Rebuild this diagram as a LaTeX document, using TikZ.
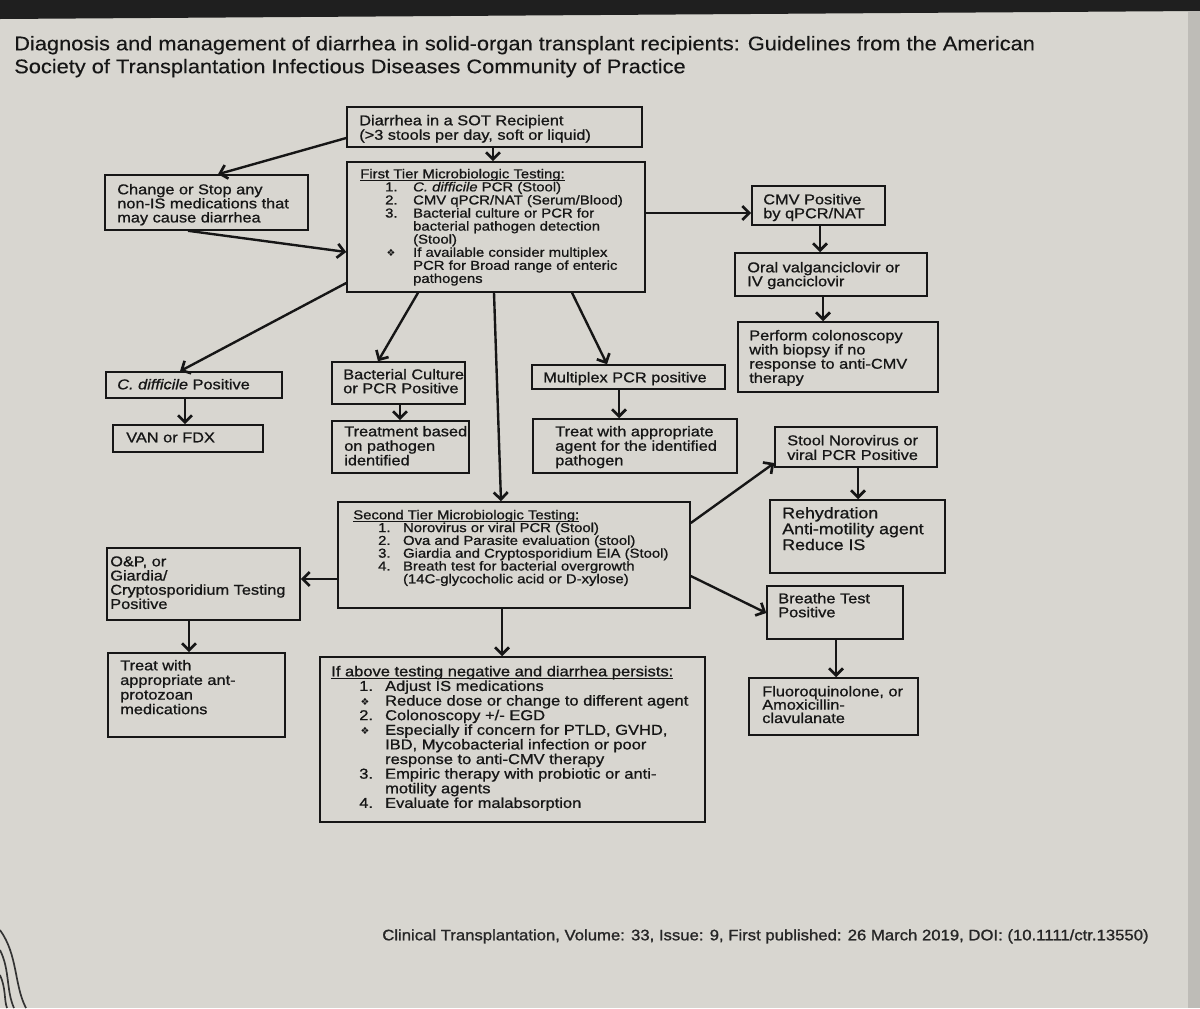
\documentclass[tikz,border=0pt]{standalone}
\usepackage{fontspec}
\setmainfont{Liberation Sans}[FakeStretch=1.15,FakeBold=0.9]
\newfontfamily\titlefont{Liberation Sans}[FakeStretch=1.107,FakeBold=0.3]
\newfontfamily\footfont{Liberation Sans}[FakeStretch=1.1,FakeBold=1.2]
\newfontfamily\symfont{DejaVu Sans}
\usetikzlibrary{arrows.meta,fit}
\definecolor{bg}{RGB}{216,214,208}
\definecolor{ink}{RGB}{22,22,22}
\newcommand\tp{\rule{0pt}{12pt}}
\newcommand\fs[2]{\fontsize{#1}{#2}\selectfont\lineskiplimit=-30pt\relax}
\newcommand\itm[2]{\makebox[#1][l]{#2}}
\newcommand\dia[1]{\makebox[#1][l]{\hspace{1pt}{\symfont\fontsize{7}{7}\selectfont ❖}}}
\newlength\ulw
\newcommand\ul[1]{\settowidth\ulw{#1}\rlap{\rule[-1.6pt]{\ulw}{0.7pt}}#1}
\tikzset{
  box/.style={draw=ink, line width=1.1pt, inner sep=0pt},
  txt/.style={anchor=north west, inner sep=0pt, align=left, yshift=12pt, text=ink},
  arr/.style={draw=ink, line width=1.7pt, -{Straight Barb[length=5pt,width=10pt,line width=1.9pt]}},
  hair/.style={draw=black!80, line width=1.2pt},
}
\begin{document}
\begin{tikzpicture}[x=0.025cm,y=-0.025cm]
\useasboundingbox (0,0) rectangle (1200,1008);
\fill[bg] (0,0) rectangle (1200,1008);
\fill[black!88] (0,0) -- (1200,0) -- (1200,11) -- (0,19) -- cycle;
\fill[bg!88!black] (1188,11) rectangle (1200,1008);
% hair strands at the bottom left
\draw[hair] (0,930) .. controls (18,955) and (14,985) .. (26,1008);
\draw[hair] (0,950) .. controls (10,970) and (6,990) .. (14,1008);
\draw[hair] (0,975) .. controls (6,988) and (4,1000) .. (7,1008);

% title and footer
\node[txt, font=\titlefont\fs{14}{16.3}] (title) at (14,50)
  {\tp Diagnosis and management of diarrhea in solid-organ transplant recipients: Guidelines from the American\\
   Society of Transplantation Infectious Diseases Community of Practice};
\node[txt, font=\footfont\fs{10.8}{12}, text=black!85] (foot) at (382,940)
  {\tp Clinical Transplantation, Volume: 33, Issue: 9, First published: 26 March 2019, DOI: (10.1111/ctr.13550)};

% boxes
\node[box, fit={(347,107) (642,147)}] (top) {};
\node[box, fit={(347,162) (645,292)}] (ft) {};
\node[box, fit={(105,175) (308,230)}] (chg) {};
\node[box, fit={(752,186) (885,225)}] (cmv) {};
\node[box, fit={(735,253) (927,296)}] (oral) {};
\node[box, fit={(738,322) (938,392)}] (perf) {};
\node[box, fit={(106,372) (282,398)}] (cdiff) {};
\node[box, fit={(113,425) (263,452)}] (van) {};
\node[box, fit={(332,362) (465,404)}] (bact) {};
\node[box, fit={(332,421) (469,473)}] (trt) {};
\node[box, fit={(532,365) (725,389)}] (mpx) {};
\node[box, fit={(533,419) (737,473)}] (tapp) {};
\node[box, fit={(775,427) (937,467)}] (noro) {};
\node[box, fit={(770,500) (945,573)}] (rehy) {};
\node[box, fit={(338,502) (690,608)}] (st) {};
\node[box, fit={(107,548) (300,620)}] (oap) {};
\node[box, fit={(108,653) (285,737)}] (tpr) {};
\node[box, fit={(767,586) (903,639)}] (brt) {};
\node[box, fit={(749,678) (918,735)}] (flq) {};
\node[box, fit={(320,657) (705,822)}] (ifa) {};

% texts
\node[txt, font=\fs{10.1}{10.3}] (top-t) at (359,125)
  {\tp Diarrhea in a SOT Recipient\\(>3 stools per day, soft or liquid)};
\node[txt, font=\fs{9.2}{9.3}] (ft-t) at (360,178)
  {\tp\ul{First Tier Microbiologic Testing:}\\
   \hspace*{17.7pt}\itm{19.9pt}{1.}\textit{C. difficile} PCR (Stool)\\
   \hspace*{17.7pt}\itm{19.9pt}{2.}CMV qPCR/NAT (Serum/Blood)\\
   \hspace*{17.7pt}\itm{19.9pt}{3.}Bacterial culture or PCR for\\
   \hspace*{37.6pt}bacterial pathogen detection\\
   \hspace*{37.6pt}(Stool)\\
   \hspace*{17.7pt}\dia{19.9pt}If available consider multiplex\\
   \hspace*{37.6pt}PCR for Broad range of enteric\\
   \hspace*{37.6pt}pathogens};
\node[txt, font=\fs{10.1}{10}] (chg-t) at (117,194)
  {\tp Change or Stop any\\non-IS medications that\\may cause diarrhea};
\node[txt, font=\fs{10.1}{9.9}] (cmv-t) at (763,204)
  {\tp CMV Positive\\by qPCR/NAT};
\node[txt, font=\fs{10.1}{9.9}] (oral-t) at (747,272)
  {\tp Oral valganciclovir or\\IV ganciclovir};
\node[txt, font=\fs{10.1}{10.1}] (perf-t) at (749,340)
  {\tp Perform colonoscopy\\with biopsy if no\\response to anti-CMV\\therapy};
\node[txt, font=\fs{10.1}{9.6}] (cdiff-t) at (117,389)
  {\tp\textit{C. difficile} Positive};
\node[txt, font=\fs{10.1}{9.6}] (van-t) at (126,442)
  {\tp VAN or FDX};
\node[txt, font=\fs{10.1}{9.9}] (bact-t) at (343,379)
  {\tp Bacterial Culture\\or PCR Positive};
\node[txt, font=\fs{10.1}{10.3}] (trt-t) at (344,436)
  {\tp Treatment based\\on pathogen\\identified};
\node[txt, font=\fs{10.1}{9.9}] (mpx-t) at (543,382)
  {\tp Multiplex PCR positive};
\node[txt, font=\fs{10.1}{10.3}] (tapp-t) at (555,436)
  {\tp Treat with appropriate\\agent for the identified\\pathogen};
\node[txt, font=\fs{10.1}{10.4}] (noro-t) at (787,445)
  {\tp Stool Norovirus or\\viral PCR Positive};
\node[txt, font=\fs{11}{11.3}] (rehy-t) at (782,518)
  {\tp Rehydration\\Anti-motility agent\\Reduce IS};
\node[txt, font=\fs{9.2}{9.1}] (st-t) at (353,519)
  {\tp\ul{Second Tier Microbiologic Testing:}\\
   \hspace*{17.7pt}\itm{17.7pt}{1.}Norovirus or viral PCR (Stool)\\
   \hspace*{17.7pt}\itm{17.7pt}{2.}Ova and Parasite evaluation (stool)\\
   \hspace*{17.7pt}\itm{17.7pt}{3.}Giardia and Cryptosporidium EIA (Stool)\\
   \hspace*{17.7pt}\itm{17.7pt}{4.}Breath test for bacterial overgrowth\\
   \hspace*{35.4pt}(14C-glycocholic acid or D-xylose)};
\node[txt, font=\fs{10.1}{10.1}] (oap-t) at (110,566)
  {\tp O\&P, or\\Giardia/\\Cryptosporidium Testing\\Positive};
\node[txt, font=\fs{10.1}{10.4}] (tpr-t) at (120,670)
  {\tp Treat with\\appropriate ant-\\protozoan\\medications};
\node[txt, font=\fs{10.1}{9.9}] (brt-t) at (778,603)
  {\tp Breathe Test\\Positive};
\node[txt, font=\fs{10.1}{9.5}] (flq-t) at (762,696)
  {\tp Fluoroquinolone, or\\Amoxicillin-\\clavulanate};
\node[txt, font=\fs{10.2}{10.4}] (ifa-t) at (331,676)
  {\tp\ul{If above testing negative and diarrhea persists:}\\
   \hspace*{19.9pt}\itm{18.4pt}{1.}Adjust IS medications\\
   \hspace*{19.9pt}\dia{18.4pt}Reduce dose or change to different agent\\
   \hspace*{19.9pt}\itm{18.4pt}{2.}Colonoscopy +/- EGD\\
   \hspace*{19.9pt}\dia{18.4pt}Especially if concern for PTLD, GVHD,\\
   \hspace*{38.3pt}IBD, Mycobacterial infection or poor\\
   \hspace*{38.3pt}response to anti-CMV therapy\\
   \hspace*{19.9pt}\itm{18.4pt}{3.}Empiric therapy with probiotic or anti-\\
   \hspace*{38.3pt}motility agents\\
   \hspace*{19.9pt}\itm{18.4pt}{4.}Evaluate for malabsorption};

% connectors
\draw[arr] (top.west |- 0,138) -- (chg.north -| 218,0);
\draw[arr] (chg.south -| 188,0) -- (ft.west |- 0,252);
\draw[arr] (top.south -| 493,0) -- (ft.north -| 493,0);
\draw[arr] (ft.east |- 0,213) -- (cmv.west |- 0,213);
\draw[arr] (cmv.south -| 820,0) -- (oral.north -| 820,0);
\draw[arr] (oral.south -| 823,0) -- (perf.north -| 823,0);
\draw[arr] (ft.west |- 0,283) -- (cdiff.north -| 180,0);
\draw[arr] (ft.south -| 418,0) -- (bact.north -| 378,0);
\draw[arr] (ft.south -| 494,0) -- (st.north -| 501,0);
\draw[arr] (ft.south -| 572,0) -- (mpx.north -| 607,0);
\draw[arr] (cdiff.south -| 185,0) -- (van.north -| 185,0);
\draw[arr] (bact.south -| 400,0) -- (trt.north -| 400,0);
\draw[arr] (mpx.south -| 619,0) -- (tapp.north -| 619,0);
\draw[arr] (st.east |- 0,523) -- (noro.west |- 0,463);
\draw[arr] (noro.south -| 858,0) -- (rehy.north -| 858,0);
\draw[arr] (st.east |- 0,576) -- (brt.west |- 0,613);
\draw[arr] (brt.south -| 836,0) -- (flq.north -| 836,0);
\draw[arr] (st.west |- 0,579) -- (oap.east |- 0,579);
\draw[arr] (oap.south -| 189,0) -- (tpr.north -| 189,0);
\draw[arr] (st.south -| 502,0) -- (ifa.north -| 502,0);
\end{tikzpicture}
\end{document}
